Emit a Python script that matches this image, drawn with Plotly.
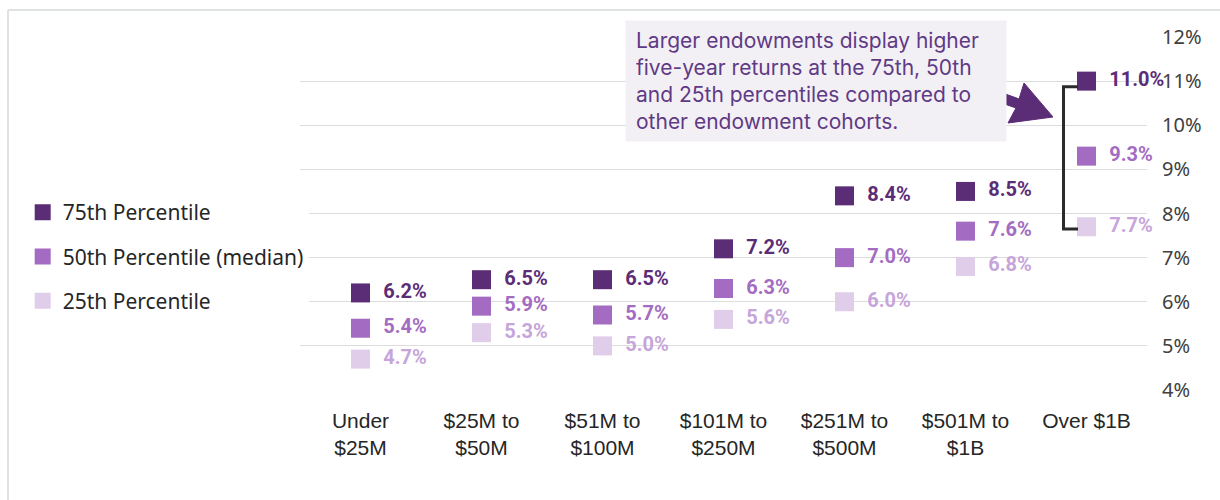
import plotly.graph_objects as go

categories = ["Under<br>$25M", "$25M to<br>$50M", "$51M to<br>$100M", "$101M to<br>$250M",
              "$251M to<br>$500M", "$501M to<br>$1B", "Over $1B"]
p75 = [6.2, 6.5, 6.5, 7.2, 8.4, 8.5, 11.0]
p50 = [5.4, 5.9, 5.7, 6.3, 7.0, 7.6, 9.3]
p25 = [4.7, 5.3, 5.0, 5.6, 6.0, 6.8, 7.7]
series_names = ["75th Percentile", "50th Percentile (median)", "25th Percentile"]
y_ticks = [4, 5, 6, 7, 8, 9, 10, 11, 12]
y_tick_text = [f"{v}%" for v in y_ticks]
note = ("Larger endowments display higher<br>five-year returns at the 75th, 50th<br>"
        "and 25th percentiles compared to<br>other endowment cohorts.")

marker_colors = ["#5c2d77", "#a36cc2", "#e0cdea"]
label_colors = ["#5c2d77", "#a36cc2", "#c6a5da"]

W, H = 1220, 500
ML, MR, MT, MB = 300, 73, 37, 110
PW, PH = W - ML - MR, H - MT - MB


def px2paper(px, py):
    return (px - ML) / PW, (H - MB - py) / PH


fig = go.Figure()
for i, (name, vals) in enumerate(zip(series_names, [p75, p50, p25])):
    fig.add_trace(go.Scatter(
        x=categories, y=vals, name=name, legendgroup=name,
        mode="markers+text",
        marker=dict(symbol="square", size=19, color=marker_colors[i]),
        texttemplate="\u00a0\u00a0%{y:.1f}%",
        textposition="middle right",
        textfont=dict(family="Roboto", size=20, color=label_colors[i], weight="bold"),
        cliponaxis=False,
        hoverinfo="skip",
    ))

fig.update_layout(
    width=W, height=H,
    margin=dict(l=ML, r=MR, t=MT, b=MB, autoexpand=False),
    paper_bgcolor="white", plot_bgcolor="white",
    showlegend=True,
    legend=dict(
        xref="container", yref="container", x=0.0186, y=0.616,
        xanchor="left", yanchor="top",
        font=dict(family="Noto Sans", size=21, color="#262626"),
        tracegroupgap=14, itemsizing="trace",
    ),
    xaxis=dict(
        type="category", range=[-0.5, 6.5], showgrid=False, zeroline=False,
        showline=False, ticks="",
        tickfont=dict(family="Liberation Sans", size=21, color="#262626"),
        ticklabelstandoff=16,
    ),
    yaxis=dict(
        side="right", range=[4, 12], tickvals=y_ticks, ticktext=y_tick_text,
        showgrid=True, gridcolor="#dcdcdc", gridwidth=1, zeroline=False,
        showline=False, ticks="",
        tickfont=dict(family="Noto Sans", size=20, color="#404040"),
        ticklabelstandoff=14,
    ),
)

# note box
bx, by = px2paper(625, 20)
fig.add_annotation(
    xref="paper", yref="paper", x=bx, y=by, xanchor="left", yanchor="top",
    text=note, showarrow=False, align="left", valign="middle",
    width=360, height=100,
    font=dict(family="Inter", size=21, color="#5f3a85"),
    bgcolor="#f3f0f5", borderpad=10,
)

# block arrow
arrow_px = [(1000, 92), (1019, 99), (1024, 83), (1053, 117), (1008, 123), (1016, 108), (996, 101)]
pts = [px2paper(x, y) for x, y in arrow_px]
path = "M " + " L ".join(f"{x:.4f},{y:.4f}" for x, y in pts) + " Z"
fig.add_shape(type="path", xref="paper", yref="paper", path=path,
              fillcolor="#5c2d77", line=dict(color="#5c2d77", width=1))

# bracket
fig.add_shape(
    type="path", xref="x", yref="y",
    path="M 5.93 10.87 L 5.81 10.87 L 5.81 7.65 L 5.93 7.65",
    line=dict(color="#2b2b2b", width=3),
)

# frame lines
fx, fy = px2paper(8, 10)
_, fb = px2paper(8, 500)
fr, _ = px2paper(1220, 10)
fig.add_shape(type="line", xref="paper", yref="paper", x0=fx, x1=fr, y0=fy, y1=fy,
              line=dict(color="#dfe3df", width=2))
fig.add_shape(type="line", xref="paper", yref="paper", x0=fx, x1=fx, y0=fy, y1=fb,
              line=dict(color="#dfe3df", width=2))

fig.write_html("out.html", config={"displayModeBar": False},
               post_script="document.body.style.margin='0';")
